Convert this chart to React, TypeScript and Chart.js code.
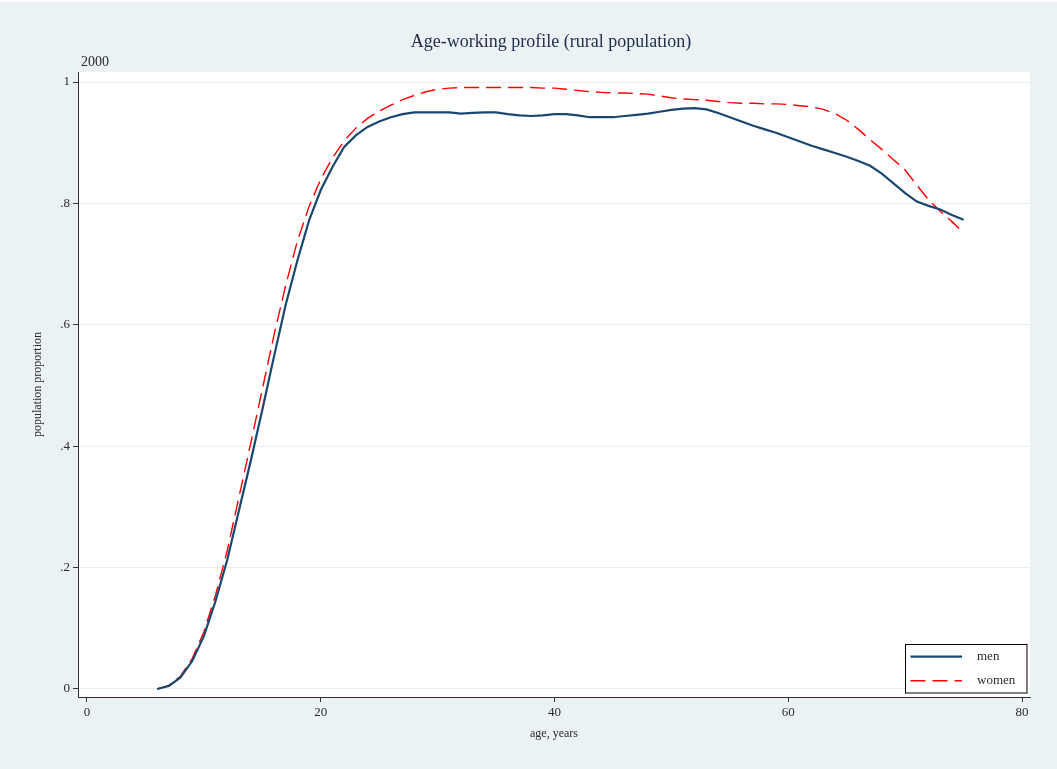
import React, { useEffect, useRef } from "react";
import { Chart, registerables } from "chart.js";

Chart.register(...registerables);

const titleText = "Age-working profile (rural population)";
const subtitleText = "2000";
const xTitle = "age, years";
const yTitle = "population proportion";

const ages = [6, 7, 8, 9, 10, 11, 12, 13, 14, 15, 16, 17, 18, 19, 20, 21, 22, 23, 24, 25, 26, 27, 28, 29, 30, 31, 32, 33, 34, 35, 36, 37, 38, 39, 40, 41, 42, 43, 44, 45, 46, 47, 48, 49, 50, 51, 52, 53, 54, 55, 56, 57, 58, 59, 60, 61, 62, 63, 64, 65, 66, 67, 68, 69, 70, 71, 72, 73, 74, 75];

const men = [0.000, 0.005, 0.019, 0.046, 0.087, 0.145, 0.213, 0.294, 0.375, 0.460, 0.548, 0.633, 0.706, 0.772, 0.822, 0.860, 0.893, 0.912, 0.926, 0.935, 0.942, 0.947, 0.950, 0.950, 0.950, 0.950, 0.948, 0.949, 0.950, 0.950, 0.947, 0.945, 0.944, 0.945, 0.947, 0.947, 0.945, 0.942, 0.942, 0.942, 0.944, 0.946, 0.948, 0.951, 0.954, 0.956, 0.957, 0.955, 0.949, 0.942, 0.935, 0.928, 0.922, 0.916, 0.909, 0.902, 0.895, 0.889, 0.883, 0.877, 0.870, 0.862, 0.849, 0.833, 0.817, 0.803, 0.796, 0.790, 0.781, 0.773];

const women = [0.000, 0.006, 0.021, 0.050, 0.094, 0.155, 0.228, 0.316, 0.404, 0.494, 0.583, 0.665, 0.738, 0.795, 0.840, 0.875, 0.903, 0.924, 0.940, 0.952, 0.962, 0.971, 0.978, 0.984, 0.988, 0.990, 0.991, 0.991, 0.991, 0.991, 0.991, 0.991, 0.991, 0.990, 0.990, 0.988, 0.986, 0.984, 0.983, 0.982, 0.982, 0.981, 0.980, 0.977, 0.974, 0.972, 0.971, 0.970, 0.968, 0.966, 0.965, 0.965, 0.964, 0.964, 0.963, 0.961, 0.959, 0.955, 0.948, 0.937, 0.922, 0.905, 0.889, 0.872, 0.855, 0.830, 0.806, 0.787, 0.770, 0.752];

const xTicks = [0, 20, 40, 60, 80];
const xTickLabels = ["0", "20", "40", "60", "80"];
const yTicks = [0, 0.2, 0.4, 0.6, 0.8, 1];
const yTickLabels = ["0", ".2", ".4", ".6", ".8", "1"];

const BG = "#eaf2f3";
const SERIF = "'Liberation Serif', 'Times New Roman', serif";
const TEXT = "#2b2b2b";

const decorPlugin = {
  id: "decor",
  beforeDraw(chart: any) {
    const { ctx, width, height, chartArea } = chart;
    ctx.save();
    ctx.fillStyle = "#ffffff";
    ctx.fillRect(0, 0, width, height);
    ctx.fillStyle = BG;
    ctx.fillRect(0, 2, width, height - 2);
    ctx.fillStyle = "#ffffff";
    ctx.fillRect(chartArea.left, chartArea.top, chartArea.right - chartArea.left, chartArea.bottom - chartArea.top);
    ctx.restore();
  },
  afterDraw(chart: any) {
    const { ctx, chartArea } = chart;
    ctx.save();
    // title
    ctx.fillStyle = "#1e2b4c";
    ctx.font = `18px ${SERIF}`;
    ctx.textAlign = "center";
    ctx.textBaseline = "middle";
    ctx.fillText(titleText, (chartArea.left + chartArea.right) / 2 - 3, 42);
    // subtitle
    ctx.fillStyle = TEXT;
    ctx.font = `14px ${SERIF}`;
    ctx.textAlign = "left";
    ctx.fillText(subtitleText, chartArea.left + 3, 62);

    // legend
    const bx = chartArea.right - 125;
    const by = chartArea.bottom - 53;
    const bw = 121.5;
    const bh = 48.5;
    ctx.fillStyle = "#ffffff";
    ctx.fillRect(bx, by, bw, bh);
    ctx.strokeStyle = "#000000";
    ctx.lineWidth = 1;
    ctx.strokeRect(Math.round(bx) + 0.5, Math.round(by) + 0.5, bw, bh);
    chart.data.datasets.forEach((ds: any, i: number) => {
      const ly = by + 12.7 + i * 24;
      ctx.beginPath();
      ctx.strokeStyle = ds.borderColor;
      ctx.lineWidth = ds.borderWidth;
      ctx.setLineDash(ds.borderDash || []);
      ctx.moveTo(bx + 5.5, ly);
      ctx.lineTo(bx + 57, ly);
      ctx.stroke();
      ctx.setLineDash([]);
      ctx.fillStyle = TEXT;
      ctx.font = `13px ${SERIF}`;
      ctx.textAlign = "left";
      ctx.textBaseline = "middle";
      ctx.fillText(ds.label, bx + 72, ly);
    });
    ctx.restore();
  },
};

export default function App() {
  const ref = useRef<HTMLCanvasElement | null>(null);

  useEffect(() => {
    document.body.style.margin = "0";
    document.body.style.background = BG;
    const canvas = ref.current;
    if (!canvas) return;
    const chart = new Chart(canvas, {
      type: "line",
      data: {
        datasets: [
          {
            label: "men",
            data: ages.map((a, i) => ({ x: a, y: men[i] })),
            borderColor: "#1a476f",
            borderWidth: 2.2,
            pointRadius: 0,
            tension: 0,
            fill: false,
          },
          {
            label: "women",
            data: ages.map((a, i) => ({ x: a, y: women[i] })),
            borderColor: "#ff0000",
            borderWidth: 1.4,
            borderDash: [15, 7],
            pointRadius: 0,
            tension: 0,
            fill: false,
          },
        ],
      },
      options: {
        responsive: false,
        animation: false,
        layout: { padding: { top: 72, right: 27, left: 0, bottom: 0 } },
        plugins: {
          legend: { display: false },
          title: { display: false },
          tooltip: { enabled: false },
        },
        scales: {
          x: {
            type: "linear",
            min: -0.77,
            max: 80.68,
            afterBuildTicks: (scale: any) => {
              scale.ticks = xTicks.map((v) => ({ value: v }));
            },
            afterFit: (scale: any) => {
              scale.height = 72;
            },
            ticks: {
              callback: (_v: any, i: number) => xTickLabels[i],
              color: TEXT,
              font: { family: SERIF, size: 13 },
              padding: 3,
              maxRotation: 0,
              autoSkip: false,
            },
            grid: {
              drawOnChartArea: false,
              tickLength: 5,
              tickColor: "#333333",
              color: "#333333",
            },
            border: { display: true, color: "#333333", width: 1 },
            title: {
              display: true,
              text: xTitle,
              color: TEXT,
              font: { family: SERIF, size: 12 },
              padding: { top: 0, bottom: 28 },
            },
          },
          y: {
            type: "linear",
            min: -0.0132,
            max: 1.0165,
            afterBuildTicks: (scale: any) => {
              scale.ticks = yTicks.map((v) => ({ value: v }));
            },
            afterFit: (scale: any) => {
              scale.width = 78;
            },
            ticks: {
              callback: (_v: any, i: number) => yTickLabels[i],
              color: TEXT,
              font: { family: SERIF, size: 13 },
              padding: 3,
              autoSkip: false,
            },
            grid: {
              drawOnChartArea: true,
              tickLength: 5,
              tickColor: "#333333",
              color: "#e6eef0",
              lineWidth: 1,
            },
            border: { display: true, color: "#333333", width: 1 },
            title: {
              display: true,
              text: yTitle,
              color: TEXT,
              font: { family: SERIF, size: 12 },
              padding: { top: 31, bottom: 0 },
            },
          },
        },
      },
      plugins: [decorPlugin],
    });
    return () => chart.destroy();
  }, []);

  return (
    <div style={{ width: 1057, height: 769, background: BG }}>
      <canvas ref={ref} width={1057} height={769} style={{ display: "block", width: 1057, height: 769 }} />
    </div>
  );
}
